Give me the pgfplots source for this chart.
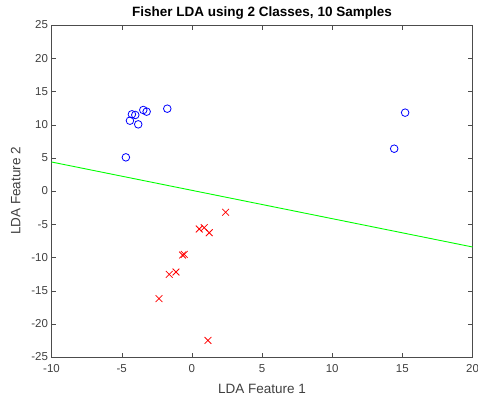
\documentclass[border=0pt]{standalone}
\usepackage{pgfplots}
\pgfplotsset{compat=1.18}
\usepackage{fontspec}
\setmainfont{Liberation Sans}
\begin{document}
\begin{tikzpicture}[x=1pt,y=1pt]
\begin{axis}[
  at={(0,0)}, anchor=south west,
  scale only axis,
  width=421pt, height=332pt,
  xmin=-10, xmax=20, ymin=-25, ymax=25,
  xtick={-10,-5,...,20}, ytick={-25,-20,...,25},
  tick align=inside,
  major tick length=4.5pt,
  axis line style={draw=black!70},
  tick style={draw=black!70},
  ticklabel style={font=\fontsize{11.5}{13}\selectfont, text=black!75},
  xticklabel style={yshift=-4pt},
  /pgf/number format/assume math mode=true,
  xlabel={LDA Feature 1}, ylabel={LDA Feature 2},
  label style={font=\fontsize{13.5}{15}\selectfont, text=black!75},
  title={\textbf{Fisher LDA using 2 Classes, 10 Samples}},
  title style={font=\fontsize{13.5}{15}\selectfont, yshift=-4pt},
  xlabel style={yshift=-5pt},
  ylabel style={yshift=4pt},
]
\addplot[only marks, mark=o, mark size=3.8pt, draw=blue, line width=0.8pt] coordinates {
(-4.70,5.07) (-4.41,10.59) (-4.27,11.55) (-4.03,11.45) (-3.82,10.04)
(-3.46,12.20) (-3.22,11.95) (-1.75,12.40) (15.20,11.80) (14.42,6.37)
};
\addplot[only marks, mark=x, mark size=4.8pt, draw=red, line width=0.8pt] coordinates {
(2.41,-3.20) (0.53,-5.72) (0.88,-5.52) (1.24,-6.28) (-0.66,-9.64)
(-0.54,-9.54) (-1.61,-12.55) (-1.13,-12.20) (-2.34,-16.20) (1.15,-22.50)
};
\addplot[green, line width=0.9pt] coordinates {(-10,4.37) (20,-8.43)};
\end{axis}
\pgfresetboundingbox
\path (-51.5,-43) rectangle (426.5,357);
\end{tikzpicture}
\end{document}
